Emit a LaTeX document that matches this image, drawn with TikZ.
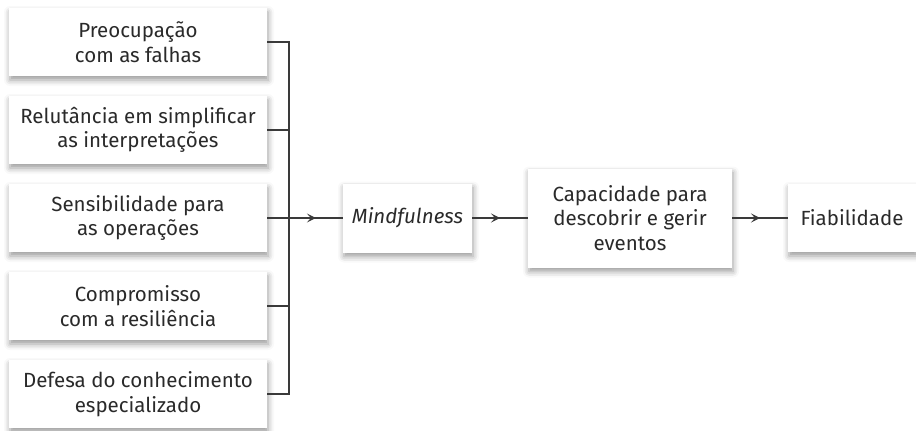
\documentclass[tikz,border=0pt]{standalone}
\usepackage{fontspec}
\setmainfont{Fira Sans}
\usetikzlibrary{arrows.meta,shadows.blur,decorations.markings}
\definecolor{texto}{HTML}{2A2A2A}
\definecolor{linha}{HTML}{3A3A3A}
\tikzset{
  caixa/.style={fill=white, align=center, inner sep=0pt, text=texto,
    font=\fontsize{20.5}{24.5}\selectfont,
    blur shadow={shadow xshift=1pt, shadow yshift=-4pt, shadow blur radius=6pt, shadow opacity=40}},
  fator/.style={caixa, minimum width=258pt, minimum height=68pt},
  ligacao/.style={draw=linha, line width=1.1pt},
  seta meio/.style={ligacao, postaction={decorate, decoration={markings,
    mark=at position 0.5 with {\arrow{Stealth[length=9pt,width=9pt,inset=4pt]}}}}}
}
\begin{document}
\begin{tikzpicture}[x=1pt,y=-1pt]
  \useasboundingbox (0,0) rectangle (916,431);
%fatores
  \node[fator] (f1) at (138,42)  {Preocupação\\com as falhas};
  \node[fator] (f2) at (138,130) {Relutância em simplificar\\as interpretações};
  \node[fator] (f3) at (138,218) {Sensibilidade para\\as operações};
  \node[fator] (f4) at (138,306) {Compromisso\\com a resiliência};
  \node[fator] (f5) at (138,394) {Defesa do conhecimento\\especializado};
%caixas do meio
  \node[caixa, minimum width=129pt, minimum height=69pt] (mind) at (407.5,218) {\itshape Mindfulness};
  \node[caixa, minimum width=204pt, minimum height=99pt] (capac) at (630,218) {Capacidade para\\descobrir e gerir\\eventos};
  \node[caixa, minimum width=128pt, minimum height=68pt] (fiab) at (852,218) {Fiabilidade};
%ligacoes
  \coordinate (juncao) at (289,218);
  \draw[ligacao] (f1.east) -| (juncao) |- (f5.east);
  \draw[ligacao] (f2.east) -- (f2.east -| juncao);
  \draw[ligacao] (f3.east) -- (juncao);
  \draw[ligacao] (f4.east) -- (f4.east -| juncao);
  \draw[seta meio] (juncao) -- (mind);
  \draw[seta meio] (mind) -- (capac);
  \draw[seta meio] (capac) -- (fiab);
\end{tikzpicture}
\end{document}
